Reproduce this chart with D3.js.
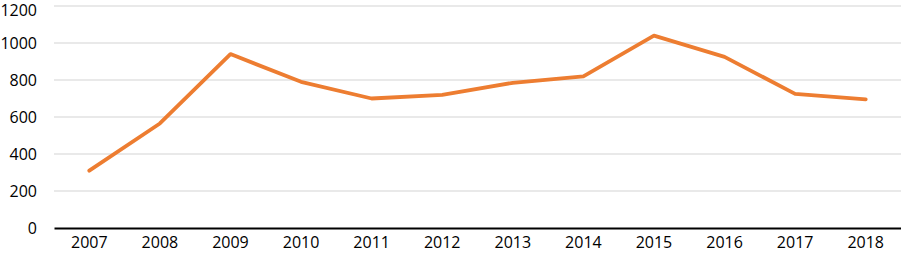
<!DOCTYPE html>
<html>
<head>
<meta charset="utf-8">
<script src="https://cdn.jsdelivr.net/npm/d3@7"></script>
<style>
  body { margin: 0; background: #fff; }
  svg text { font-family: "Open Sans", "Noto Sans", sans-serif; font-size: 16px; fill: #000; }
</style>
</head>
<body>
<svg id="chart" width="901" height="259"></svg>
<script>
const years = ["2007", "2008", "2009", "2010", "2011", "2012", "2013", "2014", "2015", "2016", "2017", "2018"];
const values = [310, 565, 940, 790, 700, 720, 785, 820, 1040, 925, 725, 695];
const yTicks = [0, 200, 400, 600, 800, 1000, 1200];

const svg = d3.select("#chart"),
  margin = { top: 6, right: 0, bottom: 31, left: 54 },
  width = +svg.attr("width") - margin.left - margin.right,
  height = +svg.attr("height") - margin.top - margin.bottom;

const g = svg.append("g").attr("transform", `translate(${margin.left},${margin.top})`);

const x = d3.scaleBand().domain(years).range([0, width]);
const y = d3.scaleLinear().domain([0, 1200]).range([height, 0]);

// gridlines
g.selectAll(".grid")
  .data(yTicks.filter((d) => d > 0))
  .enter()
  .append("line")
  .attr("x1", 0)
  .attr("x2", width)
  .attr("y1", (d) => y(d))
  .attr("y2", (d) => y(d))
  .attr("stroke", "#d4d4d4")
  .attr("stroke-width", 1.2);

// y labels
const yAxis = g.append("g")
  .call(d3.axisLeft(y).tickValues(yTicks).tickFormat(d3.format("d")).tickSize(0).tickPadding(17));
yAxis.select(".domain").remove();
yAxis.selectAll("text").attr("dy", "0.35em");
// top label would touch the edge; nudge it down a bit
yAxis.selectAll(".tick").filter((d) => d === 1200).select("text").attr("dy", "0.62em");

// x axis
const xAxis = g.append("g")
  .attr("transform", `translate(0,${height})`)
  .call(d3.axisBottom(x).tickSize(0).tickPadding(9));
xAxis.select(".domain").attr("stroke", "#000").attr("stroke-width", 2);

// line
const line = d3.line()
  .x((d, i) => x(years[i]) + x.bandwidth() / 2)
  .y((d) => y(d));

g.append("path")
  .datum(values)
  .attr("fill", "none")
  .attr("stroke", "#ED7D31")
  .attr("stroke-width", 3.8)
  .attr("stroke-linejoin", "round")
  .attr("stroke-linecap", "round")
  .attr("d", line);
</script>
</body>
</html>
